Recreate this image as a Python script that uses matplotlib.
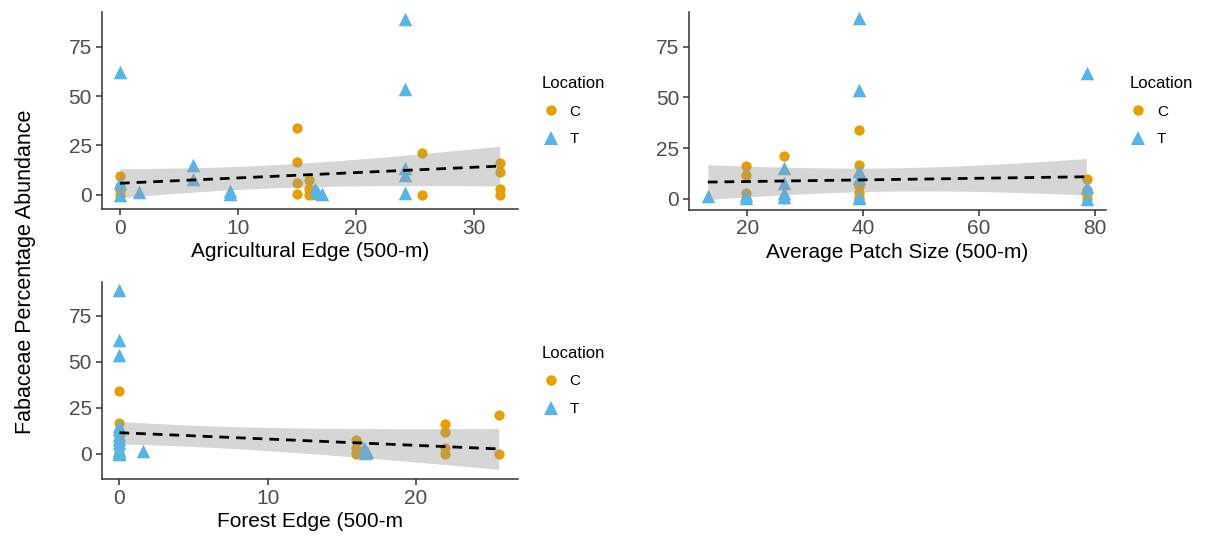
import numpy as np
import matplotlib.pyplot as plt
from matplotlib.lines import Line2D

# survey plots: location C / T, three landscape metrics, Fabaceae abundance (%)
location = ['C'] * 17 + ['T'] * 16
agri_edge = [0, 0, 0, 0, 15, 15, 15, 15, 16, 16, 16, 25.6, 25.6, 32.2, 32.2, 32.2, 32.2,
             0, 0, 0, 1.6, 6.2, 6.2, 9.3, 9.3, 16.5, 16.8, 17.1, 24.2, 24.2, 24.2, 24.2, 24.2]
patch_size = [78.6, 78.6, 78.6, 78.6, 39.2, 39.2, 39.2, 39.2, 39.2, 39.2, 39.2, 26.3, 26.3,
              19.7, 19.7, 19.7, 19.7,
              78.6, 78.6, 78.6, 13.3, 26.3, 26.3, 19.7, 19.7, 26.3, 26.3, 39.2, 39.2, 39.2,
              39.2, 39.2, 39.2]
forest_edge = [0, 0, 0, 0, 0, 0, 0, 0, 16, 16, 16, 25.6, 25.6, 22, 22, 22, 22,
               0, 0, 0, 1.6, 0, 0, 0, 0, 16.5, 16.7, 16.6, 0, 0, 0, 0, 0]
abundance = [9.6, 4.4, 2.4, 0, 33.8, 16.5, 6.1, 0.5, 7.4, 3, 0, 21, 0, 16.2, 11.7, 3, 0,
             62, 6, 0, 1.5, 15, 8, 2, 0.5, 3, 1, 0.3, 89, 53.5, 13.5, 10, 1]

# linear fits (pooled over locations): fitted value and 95% CI half-width
# at the start, a middle point and the end of each predictor's range
agri_fit_x = [0, 15, 32.2]
agri_fit_y = [5.8, 9.9, 14.5]
agri_fit_hw = [7.4, 6.0, 10.1]

patch_fit_x = [13.2, 40, 78.5]
patch_fit_y = [8.3, 9.2, 10.9]
patch_fit_hw = [8.6, 5.8, 9.0]

forest_fit_x = [0, 10, 25.6]
forest_fit_y = [11.4, 8.0, 2.6]
forest_fit_hw = [6.1, 6.3, 11.1]

x_ticks_agri = [0, 10, 20, 30]
x_ticks_patch = [20, 40, 60, 80]
x_ticks_forest = [0, 10, 20]
y_ticks = [0, 25, 50, 75]

COL = {'C': '#E69F00', 'T': '#56B4E9'}
MARK = {'C': 'o', 'T': '^'}
SIZE = {'C': 55, 'T': 95}

plt.rcParams['font.family'] = ['Liberation Sans', 'DejaVu Sans']


def fit_curves(fx, fy, fhw, n=80):
    # straight fitted line; CI half-width follows se ~ sqrt(a + b x + c x^2)
    b, a = np.polyfit(fx, fy, 1)
    q = np.polyfit(fx, np.square(fhw), 2)
    xs = np.linspace(fx[0], fx[-1], n)
    fit = a + b * xs
    hw = np.sqrt(np.polyval(q, xs))
    return xs, fit, fit - hw, fit + hw


def panel(ax, x, fx, fy, fhw, xlabel, xticks, xlim, ylim):
    loc = np.array(location)
    xa = np.asarray(x, float)
    ya = np.asarray(abundance, float)
    for g in ['C', 'T']:
        m = loc == g
        ax.scatter(xa[m], ya[m], c=COL[g], marker=MARK[g], s=SIZE[g],
                   linewidths=0, zorder=2)
    xs, fit, lo, hi = fit_curves(fx, fy, fhw)
    ax.fill_between(xs, lo, hi, color='#999999', alpha=0.4, linewidth=0, zorder=3)
    ax.plot(xs, fit, color='black', lw=2, dashes=(3.5, 2.5), zorder=4)

    ax.set_xlim(*xlim)
    ax.set_ylim(*ylim)
    ax.set_xticks(xticks)
    ax.set_yticks(y_ticks)
    for sp in ['top', 'right']:
        ax.spines[sp].set_visible(False)
    for sp in ['left', 'bottom']:
        ax.spines[sp].set_color('#333333')
        ax.spines[sp].set_linewidth(1.1)
    ax.tick_params(colors='#333333', labelcolor='#4D4D4D', labelsize=15,
                   length=4, width=1.1, pad=3)
    ax.set_xlabel(xlabel, fontsize=15, color='black', labelpad=3)

    handles = [Line2D([], [], marker=MARK[g], color=COL[g], linestyle='none',
                      markersize=10 if g == 'T' else 7.5, markeredgewidth=0)
               for g in ['C', 'T']]
    return handles


fig = plt.figure(figsize=(12.06, 5.36), dpi=100)
ax1 = fig.add_axes([0.0843, 0.610, 0.3452, 0.3676])
ax2 = fig.add_axes([0.5713, 0.6088, 0.3458, 0.3688])
ax3 = fig.add_axes([0.0843, 0.1058, 0.3452, 0.3681])

h = panel(ax1, agri_edge, agri_fit_x, agri_fit_y, agri_fit_hw,
          'Agricultural Edge (500-m)', x_ticks_agri, (-1.55, 33.75), (-7.25, 92.6))
panel(ax2, patch_size, patch_fit_x, patch_fit_y, patch_fit_hw,
      'Average Patch Size (500-m)', x_ticks_patch, (9.95, 81.9), (-5.4, 92.2))
panel(ax3, forest_edge, forest_fit_x, forest_fit_y, forest_fit_hw,
      'Forest Edge (500-m', x_ticks_forest, (-1.2, 26.9), (-13.9, 93.3))

for yy, xx in [(0.884, 0.438), (0.884, 0.925), (0.381, 0.438)]:
    fig.legend(h, ['C', 'T'], title='Location', loc='upper left',
               bbox_to_anchor=(xx, yy), frameon=False, fontsize=11,
               title_fontsize=12, labelspacing=0.9, handletextpad=0.6,
               handlelength=1.2, alignment='left')

fig.text(0.021, 0.493, 'Fabaceae Percentage Abundance', rotation=90,
         ha='center', va='center', fontsize=15.5)

fig.savefig('out.png', dpi=100)
